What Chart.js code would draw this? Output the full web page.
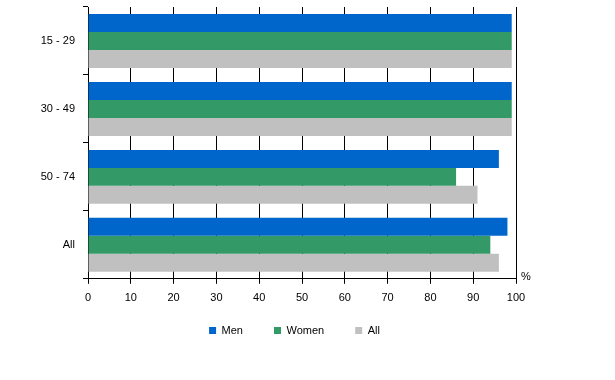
<!DOCTYPE html>
<html>
<head>
<meta charset="utf-8">
<script src="https://cdn.jsdelivr.net/npm/chart.js@4"></script>
<style>
  html, body { margin: 0; padding: 0; background: #fff; }
  #wrap { width: 615px; height: 380px; }
</style>
</head>
<body>
<div id="wrap"><canvas id="c" width="615" height="380"></canvas></div>
<script>
const categories = ["15 - 29", "30 - 49", "50 - 74", "All"];
const men = [99, 99, 96, 98];
const women = [99, 99, 86, 94];
const all = [99, 99, 91, 96];
const seriesNames = ["Men", "Women", "All"];
const xTicks = [0, 10, 20, 30, 40, 50, 60, 70, 80, 90, 100];
const unitLabel = "%";

Chart.defaults.font.family = 'Arial, "Liberation Sans", sans-serif';
Chart.defaults.font.size = 11;
Chart.defaults.color = '#000';

const percentPlugin = {
  id: 'percentLabel',
  afterLayout(chart) {
    // move legend up so it sits closer to the axis labels
    const lg = chart.legend;
    if (lg) {
      const d = lg.top - 294;
      lg.top -= d;
      lg.bottom -= d;
    }
  },
  afterDraw(chart) {
    const ctx = chart.ctx;
    const a = chart.chartArea;
    ctx.save();
    ctx.font = '11px Arial, "Liberation Sans", sans-serif';
    ctx.fillStyle = '#000';
    ctx.textAlign = 'left';
    ctx.textBaseline = 'middle';
    ctx.fillText(unitLabel, a.right + 5, a.bottom - 2);
    ctx.restore();
  }
};

new Chart(document.getElementById('c'), {
  type: 'bar',
  data: {
    labels: categories,
    datasets: [
      { label: seriesNames[0], data: men, backgroundColor: '#0066CC', borderWidth: 0 },
      { label: seriesNames[1], data: women, backgroundColor: '#339966', borderWidth: 0 },
      { label: seriesNames[2], data: all, backgroundColor: '#C0C0C0', borderWidth: 0 }
    ]
  },
  options: {
    indexAxis: 'y',
    responsive: false,
    animation: false,
    devicePixelRatio: 1,
    layout: { padding: { left: 0, right: 26, top: 7, bottom: 15 } },
    datasets: { bar: { categoryPercentage: 54 / 68, barPercentage: 1 } },
    plugins: {
      tooltip: { enabled: false },
      legend: {
        position: 'bottom',
        labels: {
          boxWidth: 7,
          boxHeight: 7,
          padding: 31,
          color: '#000',
          font: { size: 11 }
        }
      }
    },
    scales: {
      x: {
        type: 'linear',
        position: 'bottom',
        min: 0,
        max: 100,
        afterBuildTicks(scale) { scale.ticks = xTicks.map(v => ({ value: v })); },
        ticks: { padding: 8, color: '#000', font: { size: 11 } },
        grid: { color: '#000', lineWidth: 1, tickLength: 5, drawOnChartArea: true },
        border: { color: '#000', width: 1 }
      },
      y: {
        type: 'category',
        position: 'left',
        ticks: { padding: 8, color: '#000', font: { size: 11 } },
        grid: { color: '#000', lineWidth: 1, tickLength: 5, drawOnChartArea: false, offset: true },
        border: { color: '#000', width: 1 },
        afterFit(scale) { scale.width = 88; scale.paddingTop = 0; scale.paddingBottom = 0; }
      },
      y2: {
        type: 'linear',
        position: 'right',
        display: true,
        ticks: { display: false },
        grid: { display: false },
        border: { display: false },
        afterFit(scale) { scale.width = 73; scale.paddingTop = 0; scale.paddingBottom = 0; }
      }
    }
  },
  plugins: [percentPlugin]
});
</script>
</body>
</html>
